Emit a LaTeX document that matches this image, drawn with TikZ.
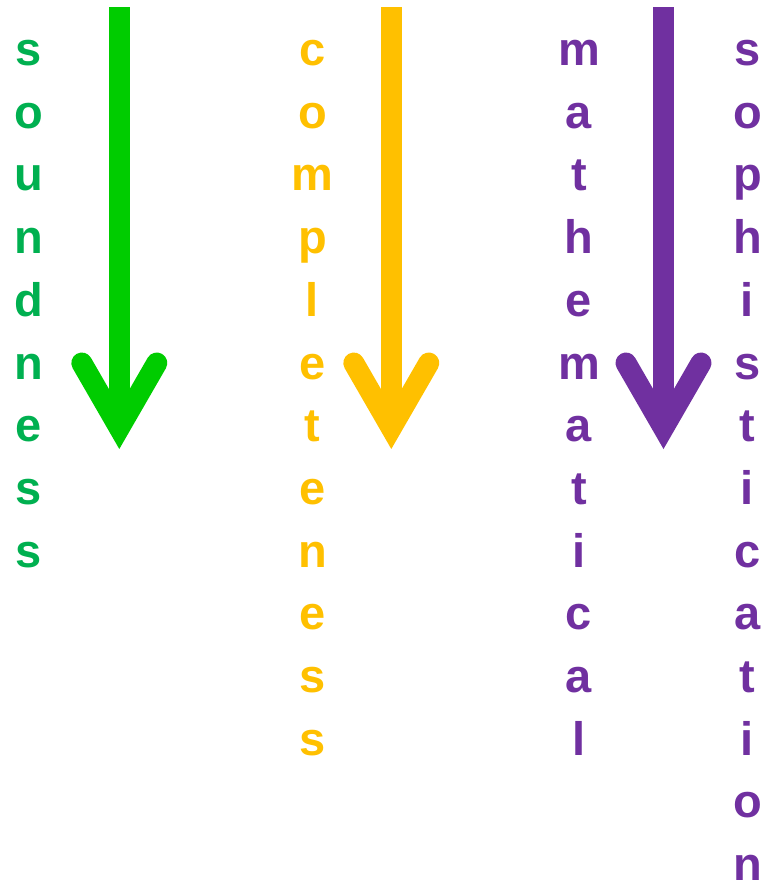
\documentclass[tikz,border=0pt]{standalone}
\usepackage{fontspec}
\setmainfont{Liberation Sans}
\definecolor{tgreen}{HTML}{00B050}
\definecolor{agreen}{HTML}{00CC00}
\definecolor{tyellow}{HTML}{FFC000}
\definecolor{tpurple}{HTML}{7030A0}
\tikzset{
  letter/.style={inner sep=0pt, anchor=base, font=\fontsize{47}{56}\selectfont\bfseries},
  shaft/.style={line width=21pt},
  head/.style={line width=21pt, line cap=round, line join=miter},
}
\begin{document}
\begin{tikzpicture}[x=1pt,y=-1pt]
\useasboundingbox (0,0) rectangle (773,886);
% words
\foreach \l [count=\i from 0] in {s,o,u,n,d,n,e,s,s}
  \node[letter, text=tgreen] (sd\i) at (28.5,{65.5+62.7*\i}) {\l};
\foreach \l [count=\i from 0] in {c,o,m,p,l,e,t,e,n,e,s,s}
  \node[letter, text=tyellow] (cp\i) at (312.5,{65.5+62.7*\i}) {\l};
\foreach \l [count=\i from 0] in {m,a,t,h,e,m,a,t,i,c,a,l}
  \node[letter, text=tpurple] (mt\i) at (579,{65.5+62.7*\i}) {\l};
\foreach \l [count=\i from 0] in {s,o,p,h,i,s,t,i,c,a,t,i,o,n}
  \node[letter, text=tpurple] (sp\i) at (747.5,{65.5+62.7*\i}) {\l};
% arrows
\foreach \nm/\x/\c in {g/119.3/agreen, y/391.3/tyellow, p/663.5/tpurple}{
  \coordinate (\nm top) at (\x,7);
  \coordinate (\nm bot) at (\x,430);
  \coordinate (\nm tip) at (\x,428);
  \coordinate (\nm L) at (\x-37.5,363);
  \coordinate (\nm R) at (\x+37.5,363);
  \draw[shaft, draw=\c] (\nm top) -- (\nm bot);
  \draw[head, draw=\c] (\nm L) -- (\nm tip) -- (\nm R);
}
\end{tikzpicture}
\end{document}
